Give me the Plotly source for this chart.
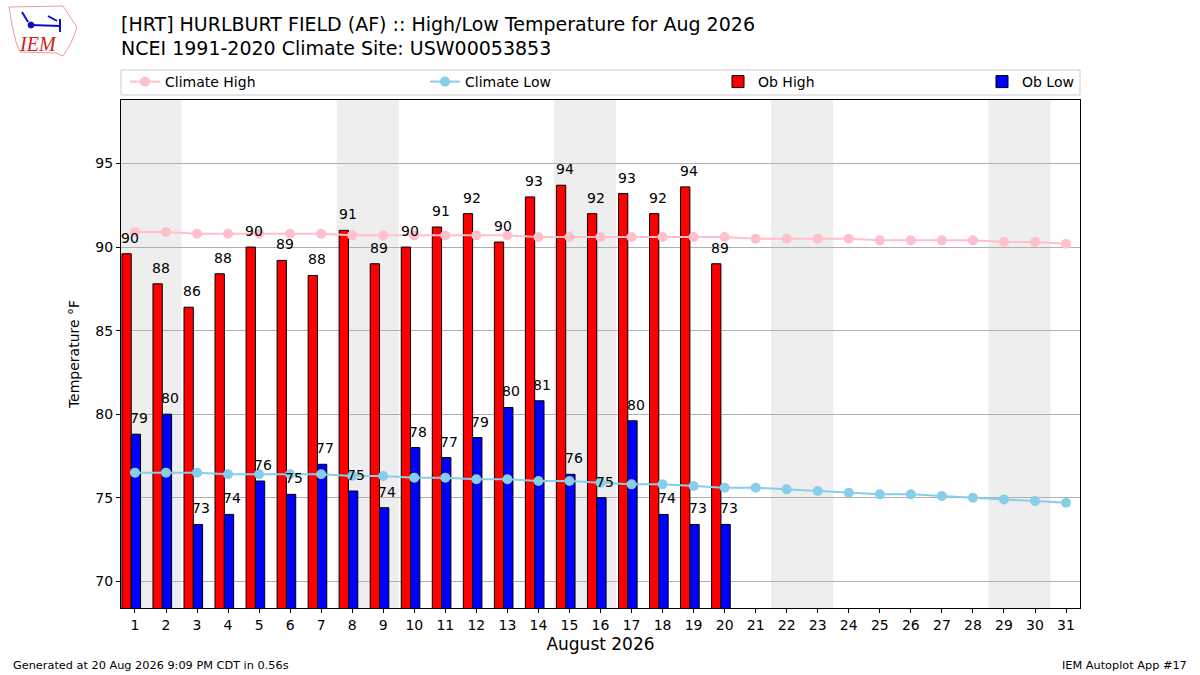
import plotly.graph_objects as go

days = list(range(1, 32))
ob_days = list(range(1, 21))
ob_high = [89.6, 87.8, 86.4, 88.4, 90.0, 89.2, 88.3, 91.0, 89.0, 90.0,
           91.2, 92.0, 90.3, 93.0, 93.7, 92.0, 93.2, 92.0, 93.6, 89.0]
ob_low = [78.8, 80.0, 73.4, 74.0, 76.0, 75.2, 77.0, 75.4, 74.4, 78.0,
          77.4, 78.6, 80.4, 80.8, 76.4, 75.0, 79.6, 74.0, 73.4, 73.4]
clim_high = [90.9, 90.9, 90.8, 90.8, 90.8, 90.8, 90.8, 90.7, 90.7, 90.7,
             90.7, 90.7, 90.7, 90.6, 90.6, 90.6, 90.6, 90.6, 90.6, 90.6,
             90.5, 90.5, 90.5, 90.5, 90.4, 90.4, 90.4, 90.4, 90.3, 90.3, 90.2]
clim_low = [76.5, 76.5, 76.5, 76.4, 76.4, 76.4, 76.4, 76.3, 76.3, 76.2,
            76.2, 76.1, 76.1, 76.0, 76.0, 75.9, 75.8, 75.8, 75.7, 75.6,
            75.6, 75.5, 75.4, 75.3, 75.2, 75.2, 75.1, 75.0, 74.9, 74.8, 74.7]
weekends = [(1, 2), (8, 9), (15, 16), (22, 23), (29, 30)]
y_ticks = [70, 75, 80, 85, 90, 95]
title_lines = ["[HRT] HURLBURT FIELD (AF) :: High/Low Temperature for Aug 2026",
               "NCEI 1991-2020 Climate Site: USW00053853"]

FONT = "DejaVu Sans"
W, H = 1200, 675
L, R, T, B = 121, 120, 100, 67
PW, PH = W - L - R, H - T - B


def px(x):
    return (x - L) / PW


def py(y):
    return (H - B - y) / PH


fig = go.Figure()

fig.add_trace(go.Bar(x=ob_days, y=ob_high, name="Ob High", offset=-0.42, width=0.3,
                     marker=dict(color="#ff0000", line=dict(color="black", width=1)),
                     legend="legend3"))
fig.add_trace(go.Bar(x=ob_days, y=ob_low, name="Ob Low", offset=-0.12, width=0.3,
                     marker=dict(color="#0000ff", line=dict(color="black", width=1)),
                     legend="legend4"))
fig.add_trace(go.Scatter(x=days, y=clim_high, name="Climate High", mode="lines+markers",
                         line=dict(color="#ffc0cb", width=2), marker=dict(size=10, color="#ffc0cb"),
                         legend="legend"))
fig.add_trace(go.Scatter(x=days, y=clim_low, name="Climate Low", mode="lines+markers",
                         line=dict(color="#87ceeb", width=2), marker=dict(size=10, color="#87ceeb"),
                         legend="legend2"))

for d, v in zip(ob_days, ob_high):
    fig.add_annotation(x=d - 0.15, y=v, text=str(int(v + 0.5)), showarrow=False,
                       yanchor="bottom", yshift=6, font=dict(family=FONT, size=14, color="black"))
for d, v in zip(ob_days, ob_low):
    fig.add_annotation(x=d + 0.13, y=v, text=str(int(v + 0.5)), showarrow=False,
                       yanchor="bottom", yshift=6, font=dict(family=FONT, size=14, color="black"))

for a, b in weekends:
    fig.add_shape(type="rect", xref="x", yref="paper", x0=a - 0.5, x1=b + 0.5, y0=0, y1=1,
                  fillcolor="#eeeeee", line=dict(width=0), layer="below")

# legend frame
fig.add_shape(type="rect", xref="paper", yref="paper", x0=0, x1=1, y0=py(95), y1=py(70),
              line=dict(color="#cccccc", width=1), fillcolor="rgba(0,0,0,0)")

# title lines
for txt, yy in zip(title_lines, [24, 48]):
    fig.add_annotation(xref="paper", yref="paper", x=px(119), y=py(yy), xanchor="left", yanchor="middle",
                       text=txt, showarrow=False, font=dict(family=FONT, size=19, color="black"))

# logo approximation
outline = [(9, 7), (63, 6), (67, 12), (72, 20), (77, 27), (74, 36), (70, 45), (66, 51),
           (63, 56), (56, 53), (20, 52), (16, 42), (12, 25)]
path = "M " + " L ".join(f"{px(a):.4f} {py(b):.4f}" for a, b in outline) + " Z"
fig.add_shape(type="path", xref="paper", yref="paper", path=path,
              line=dict(color="#e99", width=1), fillcolor="rgba(0,0,0,0)")
for (x0, y0, x1, y1) in [(31, 25, 60, 26), (60, 19, 60, 32), (48, 16, 57, 21), (22, 12, 28, 22)]:
    fig.add_shape(type="line", xref="paper", yref="paper", x0=px(x0), y0=py(y0), x1=px(x1), y1=py(y1),
                  line=dict(color="#1010c0", width=2))
fig.add_shape(type="circle", xref="paper", yref="paper", x0=px(28), y0=py(28), x1=px(34), y1=py(22),
              line=dict(color="#1010c0", width=1), fillcolor="#1010c0")
fig.add_annotation(xref="paper", yref="paper", x=px(38), y=py(44), xanchor="center", yanchor="middle",
                   text="<i>IEM</i>", showarrow=False,
                   font=dict(family="Liberation Serif", size=20, color="#d02020"))

fig.add_annotation(xref="paper", yref="paper", x=px(11), y=py(665), xanchor="left", yanchor="middle",
                   text="Generated at 20 Aug 2026 9:09 PM CDT in 0.56s", showarrow=False,
                   font=dict(family=FONT, size=11.3, color="black"))
fig.add_annotation(xref="paper", yref="paper", x=px(1189), y=py(665), xanchor="right", yanchor="middle",
                   text="IEM Autoplot App #17", showarrow=False,
                   font=dict(family=FONT, size=11.3, color="black"))

leg_common = dict(orientation="h", yanchor="middle", xanchor="left", y=py(82), visible=True,
                  font=dict(family=FONT, size=14), bgcolor="rgba(0,0,0,0)")

fig.update_layout(
    width=W, height=H,
    margin=dict(l=L, r=R, t=T, b=B),
    plot_bgcolor="white", paper_bgcolor="white",
    barmode="overlay",
    showlegend=True,
    font=dict(family=FONT, size=14, color="black"),
    legend=dict(x=px(125), **leg_common),
    legend2=dict(x=px(425), **leg_common),
    legend3=dict(x=px(718), **leg_common),
    legend4=dict(x=px(982), **leg_common),
    xaxis=dict(range=[0.55, 31.45], tickvals=days, ticktext=[str(d) for d in days],
               showgrid=False, showline=True, linecolor="black", mirror=True,
               ticks="outside", ticklen=4, tickcolor="black", zeroline=False,
               tickfont=dict(size=14),
               title=dict(text="August 2026", font=dict(family=FONT, size=17), standoff=6)),
    yaxis=dict(range=[68.4, 98.8], tickvals=y_ticks, showgrid=True, gridcolor="#b0b0b0",
               showline=True, linecolor="black", mirror=True, ticks="outside", ticklen=4,
               tickcolor="black", zeroline=False, tickfont=dict(size=14),
               title=dict(text="Temperature °F", font=dict(family=FONT, size=14), standoff=12)),
)

fig.write_html("out.html", post_script="document.body.style.margin='0';",
               config={"displayModeBar": False})
